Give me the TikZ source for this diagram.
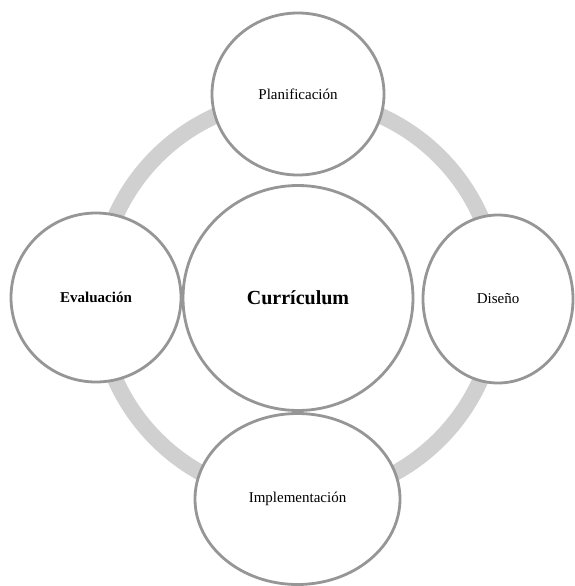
\documentclass[tikz,border=0pt]{standalone}
\usepackage{fontspec}
\setmainfont{Liberation Serif}
\usetikzlibrary{shapes.geometric}
\definecolor{rimgray}{RGB}{208,208,208}
\definecolor{edgegray}{RGB}{150,150,150}
\begin{document}
\begin{tikzpicture}[x=1pt,y=-1pt,line join=round,
  phase/.style={ellipse,draw=edgegray,line width=2.8pt,fill=white,inner sep=0pt,
    font=\fontsize{15}{18}\selectfont},
  core/.style={phase,font=\fontsize{20}{24}\selectfont\bfseries}]
\useasboundingbox (0,0) rectangle (574,586);
% ring behind the phases
\draw[rimgray,line width=16pt] (298,298) circle[radius=200pt];
\node[core,minimum width=230pt,minimum height=225pt] (curr) at (298,298) {Currículum};
\node[phase,minimum width=172pt,minimum height=162pt] (plan) at (298,94) {Planificación};
\node[phase,minimum width=150pt,minimum height=168pt] (dis) at (498,299) {Diseño};
\node[phase,minimum width=205pt,minimum height=171pt] (impl) at (297.5,499) {Implementación};
\node[phase,minimum width=170pt,minimum height=169pt,font=\fontsize{15}{18}\selectfont\bfseries] (eval) at (96,297.5) {Evaluación};
\end{tikzpicture}
\end{document}
